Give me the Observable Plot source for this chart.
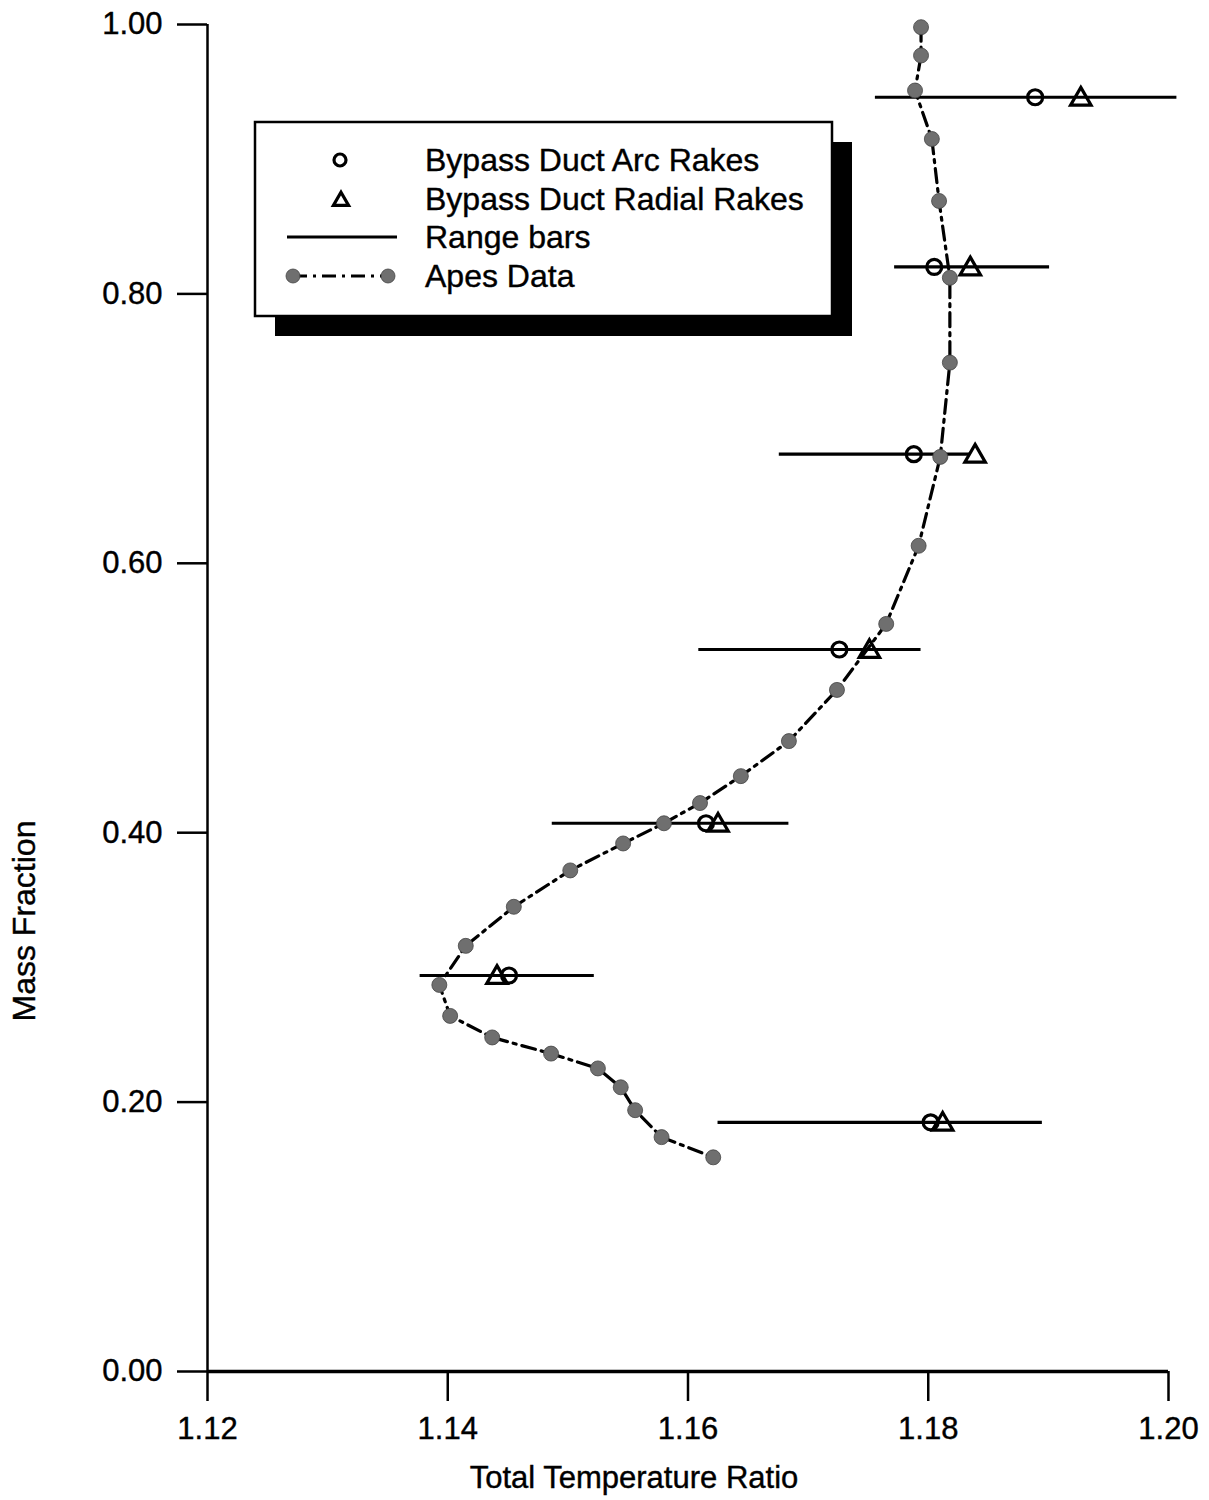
<!DOCTYPE html>
<html><head><meta charset="utf-8">
<script src="https://cdn.jsdelivr.net/npm/d3@7"></script>
<script src="https://cdn.jsdelivr.net/npm/@observablehq/plot@0.6"></script>
<style>html,body{margin:0;padding:0;background:#fff}svg{display:block}</style>
</head><body><div id="chart"></div>
<script>
// Apes Data (dash-dot line with stippled markers)
const apesTTR  = [1.1794, 1.1794, 1.1789, 1.1803, 1.1809, 1.1818, 1.1818, 1.1810, 1.1792, 1.1765, 1.1724, 1.1684, 1.1644, 1.1610, 1.1580, 1.1546, 1.1502, 1.1455, 1.1415, 1.1393, 1.1402, 1.1437, 1.1486, 1.1525, 1.1544, 1.1556, 1.1578, 1.1621];
const apesMass = [0.998, 0.977, 0.951, 0.915, 0.869, 0.812, 0.749, 0.679, 0.613, 0.555, 0.506, 0.468, 0.442, 0.422, 0.407, 0.392, 0.372, 0.345, 0.316, 0.287, 0.264, 0.248, 0.236, 0.225, 0.211, 0.194, 0.174, 0.159];
// Rakes: mass fraction, arc & radial rake values, range bar extents
const rakeMass   = [0.946, 0.820, 0.681, 0.536, 0.407, 0.294, 0.185];
const arcTTR     = [1.1889, 1.1805, 1.1788, 1.1726, 1.1615, 1.1451, 1.1802];
const radialTTR  = [1.1927, 1.1835, 1.1839, 1.1751, 1.1625, 1.1441, 1.1812];
const rangeLow   = [1.1756, 1.1772, 1.1676, 1.1609, 1.1487, 1.1377, 1.1625];
const rangeHigh  = [1.2007, 1.1901, 1.1835, 1.1794, 1.1684, 1.1522, 1.1895];
// Ticks & labels
const xTicks = [1.12, 1.14, 1.16, 1.18, 1.20];
const yTicks = [0, 0.2, 0.4, 0.6, 0.8, 1.0];
const xLabel = "Total Temperature Ratio";
const yLabel = "Mass Fraction";
const legendLabels = ["Bypass Duct Arc Rakes", "Bypass Duct Radial Rakes", "Range bars", "Apes Data"];

const apes = apesTTR.map((x, i) => ({x, m: apesMass[i]}));
const rakes = rakeMass.map((m, i) => ({m, arc: arcTTR[i], radial: radialTTR[i], lo: rangeLow[i], hi: rangeHigh[i]}));

const FONT = "'Liberation Sans', Arial, Helvetica, sans-serif";
const apesFill = "#6f6f6f";

const chart = Plot.plot({
  width: 1209, height: 1500,
  marginLeft: 207, marginRight: 41, marginTop: 24, marginBottom: 129,
  style: {fontFamily: FONT, fontSize: "31px", background: "white", color: "black", overflow: "visible"},
  x: {domain: [1.12, 1.20]},
  y: {domain: [0, 1]},
  marks: [
    Plot.axisY({ticks: yTicks, tickSize: 30, tickPadding: 15, tickFormat: d => d.toFixed(2), strokeWidth: 2.5, label: null, fontSize: 31, stroke: "black"}),
    Plot.axisX({ticks: xTicks, tickSize: 30, tickPadding: 15, tickFormat: d => d.toFixed(2), strokeWidth: 2.5, label: null, fontSize: 31, stroke: "black"}),
    Plot.ruleX([1.12], {strokeWidth: 2.5}),
    Plot.ruleY([0], {strokeWidth: 3.5}),
    Plot.ruleY(rakes, {y: "m", x1: "lo", x2: "hi", stroke: "black", strokeWidth: 3.2}),
    Plot.line(apes, {x: "x", y: "m", stroke: "black", strokeWidth: 3.2, strokeDasharray: "14,6,3,6"}),
    Plot.dot(apes, {x: "x", y: "m", r: 7.5, fill: apesFill, stroke: "#444", strokeWidth: 0.8}),
    Plot.dot(rakes, {x: "arc", y: "m", r: 7.5, fill: "none", stroke: "black", strokeWidth: 3.2}),
    Plot.dot(rakes, {x: "radial", y: "m", symbol: "triangle", r: 7.6, dy: 2, fill: "none", stroke: "black", strokeWidth: 3.2})
  ]
});

const svg = d3.select(chart);
svg.selectAll("text").attr("stroke", "black").attr("stroke-width", 0.4);
// axis labels
svg.append("text").attr("transform", "translate(35,921) rotate(-90)")
  .attr("text-anchor", "middle").attr("font-family", FONT).attr("font-size", 32).attr("fill", "black")
  .attr("stroke", "black").attr("stroke-width", 0.4).text(yLabel);
svg.append("text").attr("x", 634).attr("y", 1488)
  .attr("text-anchor", "middle").attr("font-family", FONT).attr("font-size", 31).attr("fill", "black")
  .attr("stroke", "black").attr("stroke-width", 0.4).text(xLabel);

// legend
const lg = svg.append("g");
lg.append("rect").attr("x", 275).attr("y", 142).attr("width", 577).attr("height", 194).attr("fill", "black");
lg.append("rect").attr("x", 255).attr("y", 122).attr("width", 577).attr("height", 194).attr("fill", "white").attr("stroke", "black").attr("stroke-width", 2.5);
const rowsY = [160, 199, 237, 276];
lg.append("circle").attr("cx", 340).attr("cy", rowsY[0]).attr("r", 6).attr("fill", "none").attr("stroke", "black").attr("stroke-width", 3.2);
lg.append("path").attr("d", d3.symbol(d3.symbolTriangle, 100)()).attr("transform", `translate(341,${rowsY[1] + 2})`)
  .attr("fill", "none").attr("stroke", "black").attr("stroke-width", 3.2);
lg.append("line").attr("x1", 287).attr("x2", 397).attr("y1", rowsY[2]).attr("y2", rowsY[2]).attr("stroke", "black").attr("stroke-width", 3);
lg.append("line").attr("x1", 293).attr("x2", 388).attr("y1", rowsY[3]).attr("y2", rowsY[3]).attr("stroke", "black").attr("stroke-width", 3).attr("stroke-dasharray", "14,6,3,6");
[293, 388].forEach(cx => lg.append("circle").attr("cx", cx).attr("cy", rowsY[3]).attr("r", 7).attr("fill", apesFill).attr("stroke", "#444").attr("stroke-width", 0.8));
legendLabels.forEach((t, i) => lg.append("text").attr("x", 425).attr("y", rowsY[i]).attr("dy", "0.35em")
  .attr("text-anchor", "start").attr("font-family", FONT).attr("font-size", 32).attr("fill", "black")
  .attr("stroke", "black").attr("stroke-width", 0.4).text(t));

document.getElementById("chart").appendChild(chart);
</script></body></html>
